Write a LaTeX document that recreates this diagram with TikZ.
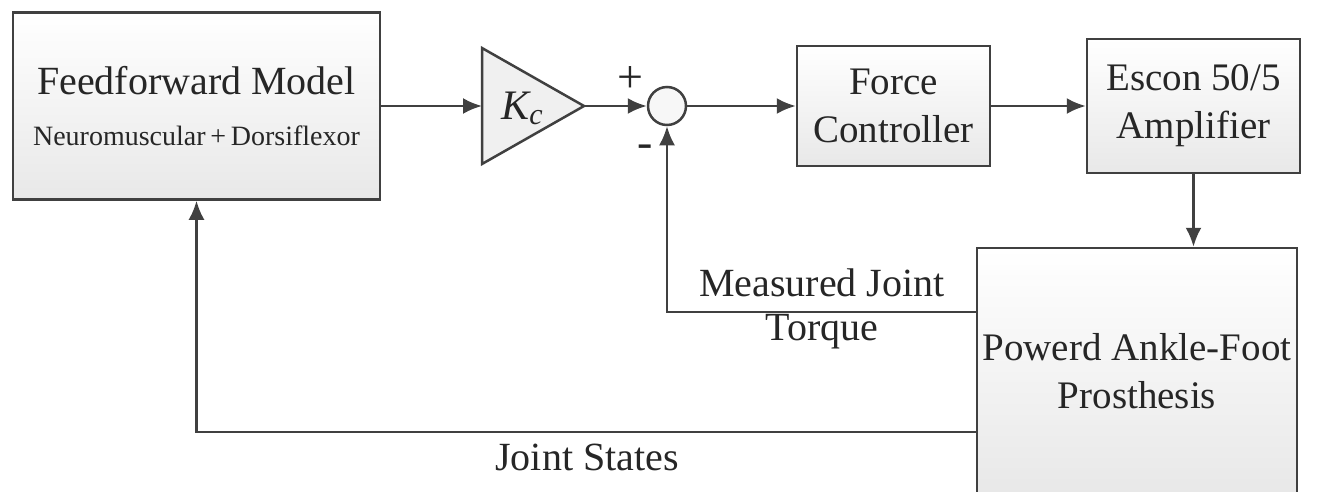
\documentclass[tikz,border=0pt]{standalone}
\usepackage{fontspec}
\setmainfont{Liberation Serif}
\usetikzlibrary{arrows.meta}

\begin{document}
\begin{tikzpicture}[x=1pt, y=-1pt, >={Latex[length=19pt,width=16pt]}]
\tikzstyle{every node} = [text=black!85]
\tikzstyle{block} = [draw=black!75, line width=2.5pt, top color=white, bottom color=gray!18, align=center, inner sep=0pt, font=\fontsize{39}{48}\selectfont]
\tikzstyle{sigtext} = [font=\fontsize{40}{48}\selectfont, inner sep=0pt]
\tikzstyle{wire} = [draw=black!75, line width=2.5pt]
\clip (0,0) rectangle (1334,491);
% blocks
\node[block, minimum width=367, minimum height=187, font=\fontsize{40}{51}\selectfont] (ff) at (196.5,106) {Feedforward Model\\{\fontsize{28}{51}\selectfont Neuromuscular\,+\,Dorsiflexor}};
\coordinate (gainin) at (482,106);
\coordinate (gainout) at (584,106);
\draw [wire, fill=gray!12, line join=miter] (482,48) -- (gainout) -- (482,164) -- cycle;
\node[sigtext, font=\fontsize{42}{48}\selectfont\itshape] (kc) at (522,108) {K\raisebox{-0.25ex}{\fontsize{30}{30}\selectfont c}};
\node[circle, draw=black!75, line width=2.5pt, fill=gray!6, minimum size=38, inner sep=0pt] (sum) at (667,106) {};
\node[block, minimum width=193, minimum height=120] (fc) at (893.5,106) {Force\\Controller};
\node[block, minimum width=213, minimum height=134] (esc) at (1193.5,106) {Escon 50/5\\Amplifier};
\node[block, minimum width=320, minimum height=246] (pros) at (1137,371) {Powerd Ankle-Foot\\Prosthesis};
% signs and signal names
\node[sigtext, font=\fontsize{46}{48}\selectfont] (plus) at (630,80) {+};
\node[sigtext, font=\fontsize{46}{48}\selectfont] (minus) at (645,151) {-};
\node[sigtext] (mjt) at (822,283) {Measured Joint};
\node[sigtext] (trq) at (822,332) {Torque};
\node[sigtext] (js) at (587,457) {Joint States};
\coordinate (torque) at (0,312);
\coordinate (states) at (0,432);
% connectors
\foreach \from/\to in {ff/gainin, gainout/sum, sum/fc, fc/esc}
\draw [wire, ->] (\from) -- (\to);
\draw [wire, ->] (esc.south) -- (esc.south |- pros.north);
\draw [wire, ->] (pros.west |- torque) -| (sum.south);
\draw [wire, ->] (pros.west |- states) -| (ff.south);
\end{tikzpicture}
\end{document}
